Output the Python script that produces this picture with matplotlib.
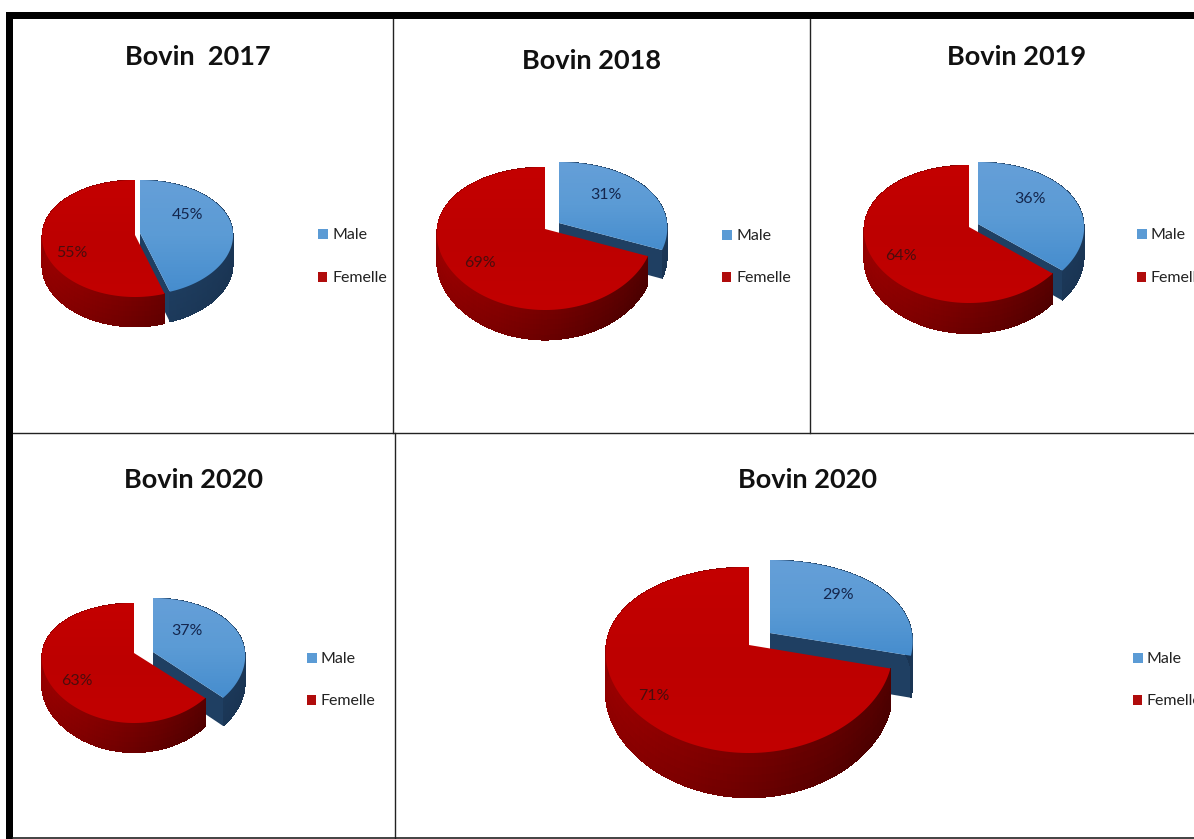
import numpy as np
import matplotlib
matplotlib.use("Agg")
import matplotlib.pyplot as plt
from matplotlib.collections import PolyCollection
from matplotlib.colors import LinearSegmentedColormap
from matplotlib.patches import Polygon, Rectangle

plt.rcParams['font.family'] = ['Lato', 'DejaVu Sans']

# Share of each sex per chart
titles = ['Bovin  2017', 'Bovin 2018', 'Bovin 2019', 'Bovin 2020', 'Bovin 2020']
male = [45, 31, 36, 37, 29]
femelle = [55, 69, 64, 63, 71]
legend_names = ['Male', 'Femelle']

# Layout in pixels, one entry per chart
apex = [(135, 235), (545, 229), (969, 227), (134, 653), (749, 645)]
half_width = [93, 108, 105, 92, 143]
reach_back = [55, 62, 62, 50, 78]
reach_front = [62, 81, 76, 70, 108]
depth = [29, 28, 29, 27, 41]
male_apex = [(140, 233), (559, 223), (978, 224), (153, 652), (770, 633)]
male_half_width = [93, 108, 106, 92, 142]
male_back = [53, 61, 62, 54, 73]
title_pos = [(198, 57), (591, 61), (1017, 57), (193, 480), (808, 480)]
legend_pos = [(318, 234, 277), (722, 235, 277), (1137, 234, 277), (307, 658, 700), (1133, 658, 700)]
male_label_pos = [(188, 215), (606, 195), (1030, 199), (187, 631), (838, 595)]
femelle_label_pos = [(72, 253), (480, 263), (901, 256), (77, 681), (654, 696)]

BLUE = '#5b9bd5'
RED = '#b00c0c'
blue_top = LinearSegmentedColormap.from_list('blue_top', ['#659fd8', '#5b9bd5', '#468dce'])
red_top = LinearSegmentedColormap.from_list('red_top', ['#c40000', '#bd0000', '#c20000'])
blue_side = LinearSegmentedColormap.from_list('blue_side', ['#24496f', '#1f3f62', '#1a3554'])
red_side = LinearSegmentedColormap.from_list('red_side', ['#9c0000', '#740000', '#4c0000'])


def project(theta, ox, oy, w, back, front):
    # theta runs clockwise from twelve o'clock, nearer points are drawn larger
    k = (front - back) / (front + back)
    a = back * (1 + k)
    X = np.sin(theta)
    Y = np.cos(theta)
    d = 1 + k * Y
    return ox + w * X / np.sqrt(d), oy - a * Y / d, d


def gradient_fill(ax, verts, cmap):
    xs, ys = verts[:, 0], verts[:, 1]
    patch = Polygon(verts, closed=True, facecolor='none', edgecolor='none')
    ax.add_patch(patch)
    img = ax.imshow(np.linspace(0, 1, 64).reshape(-1, 1), cmap=cmap, aspect='auto',
                    extent=(xs.min(), xs.max(), ys.max(), ys.min()), zorder=patch.get_zorder())
    img.set_clip_path(patch)


def draw_slice(ax, start, stop, ox, oy, w, back, front, h, top_cmap, side_cmap, show_cut):
    theta = np.linspace(start, stop, 181)
    x, y, d = project(theta, ox, oy, w, back, front)
    drop = h / np.sqrt(d)

    # flat face on the trailing cut of the slice
    if show_cut:
        cut = [(ox, oy), (x[-1], y[-1]), (x[-1], y[-1] + drop[-1]), (ox, oy + h)]
        ax.add_patch(Polygon(cut, closed=True, facecolor=side_cmap(0.5), edgecolor='none'))

    # outer wall, stacked in thin bands so it can darken to the right and downwards
    quads, shades = [], []
    bands = 6
    for i in range(len(theta) - 1):
        for b in range(bands):
            t0, t1 = b / bands, (b + 1) / bands
            quads.append([(x[i], y[i] + drop[i] * t0), (x[i + 1], y[i + 1] + drop[i + 1] * t0),
                          (x[i + 1], y[i + 1] + drop[i + 1] * t1), (x[i], y[i] + drop[i] * t1)])
            pos = (x[i] - (ox - w)) / (2 * w)
            shades.append(np.clip(0.9 * pos + 0.15 * t1, 0, 1))
    walls = PolyCollection(quads, facecolors=side_cmap(np.array(shades)), edgecolors='none', antialiased=False)
    ax.add_collection(walls)

    top = np.vstack([[ox, oy], np.column_stack([x, y])])
    gradient_fill(ax, top, top_cmap)


fig = plt.figure(figsize=(11.94, 8.39), dpi=100)
ax = fig.add_axes([0, 0, 1, 1])

for n in range(len(titles)):
    ox, oy = apex[n]
    mx, my = male_apex[n]
    total = male[n] + femelle[n]
    split = 2 * np.pi * male[n] / total

    draw_slice(ax, 0, split, mx, my, male_half_width[n], male_back[n], reach_front[n], depth[n],
               blue_top, blue_side, True)
    draw_slice(ax, split, 2 * np.pi, ox, oy, half_width[n], reach_back[n], reach_front[n], depth[n],
               red_top, red_side, False)

    ax.text(*title_pos[n], titles[n], fontsize=19.5, fontweight='bold', color='#111111', ha='center', va='center')
    ax.text(*male_label_pos[n], f'{male[n]}%', fontsize=11.5, color='#14264d', ha='center', va='center')
    ax.text(*femelle_label_pos[n], f'{femelle[n]}%', fontsize=11.5, color='#4a0d0d', ha='center', va='center')

    lx, ly1, ly2 = legend_pos[n]
    ax.add_patch(Rectangle((lx, ly1 - 5), 10, 10, facecolor=BLUE, edgecolor='none'))
    ax.add_patch(Rectangle((lx, ly2 - 5), 9, 10, facecolor=RED, edgecolor='none'))
    ax.text(lx + 14, ly1 + 1, legend_names[0], fontsize=11.5, color='#222222', va='center')
    ax.text(lx + 14, ly2 + 1, legend_names[1], fontsize=11.5, color='#222222', va='center')

# Panel frame: heavy top and left, thin dividers
ax.add_patch(Rectangle((6, 12), 1188, 7, facecolor='black', edgecolor='none', zorder=5))
ax.add_patch(Rectangle((6, 12), 7, 827, facecolor='black', edgecolor='none', zorder=5))
ax.plot([13, 1194], [433, 433], color='#222222', lw=1.0, zorder=5)
ax.plot([13, 1194], [838, 838], color='#222222', lw=1.2, zorder=5)
ax.plot([393, 393], [19, 433], color='#222222', lw=1.0, zorder=5)
ax.plot([810, 810], [19, 433], color='#222222', lw=1.0, zorder=5)
ax.plot([395, 395], [433, 839], color='#222222', lw=1.0, zorder=5)

ax.set_xlim(0, 1194)
ax.set_ylim(839, 0)
ax.axis('off')
fig.savefig('out.png', dpi=100, facecolor='white')
